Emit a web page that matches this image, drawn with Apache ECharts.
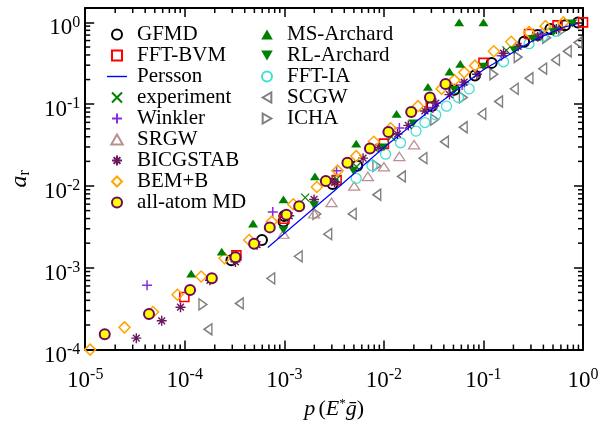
<!DOCTYPE html>
<html>
<head>
<meta charset="utf-8">
<script src="https://cdn.jsdelivr.net/npm/echarts@6/dist/echarts.min.js"></script>
<style>
html, body { margin: 0; padding: 0; background: #fff; }
#main { width: 602px; height: 425px; }
</style>
</head>
<body>
<div id="main"></div>
<script>
// data: [p, a_r]
var gfmd = [[2.94e-4,1.24e-3],[5.96e-4,2.19e-3],[9.8e-4,3.67e-3],[1.0e-3,4.3e-3],[3.05e-3,1.06e-2],[5.4e-3,1.77e-2],[3.03e-2,9.5e-2],[5.1e-2,0.15],[8.2e-2,0.225],[0.121,0.32],[0.256,0.58],[0.35,0.70],[0.47,0.83],[0.66,0.92],[0.89,1.0]];
var fftBvm = [[9.9e-5,4.4e-4],[3.3e-4,1.42e-3],[1.0e-3,3.98e-3],[3.35e-3,1.18e-2],[1e-2,3.3e-2],[2.96e-2,0.103],[0.1,0.32],[0.287,0.72],[0.555,0.92],[1,1]];
var persson = [[6.82e-4,1.77e-3],[3.16e-3,8.7e-3],[1e-2,2.95e-2],[3.16e-2,9.1e-2],[0.1,0.263],[0.316,0.6],[0.63,0.87],[0.9,0.97]];
var experiment = [[1.62e-3,7.2e-3],[3.35e-3,1.21e-2],[5.3e-3,1.72e-2],[7.9e-3,2.96e-2],[1.19e-2,3.98e-2],[0.17,0.456]];
var winkler = [[4.18e-5,6.1e-4],[7.65e-4,4.8e-3],[3.35e-3,1.54e-2],[1.43e-2,5.1e-2],[3.1e-2,9.0e-2],[6.1e-2,0.172],[0.152,0.39],[0.377,0.72]];
var srgw = [[9.8e-4,2.58e-3],[1.99e-3,4.56e-3],[2.98e-3,6.3e-3],[5.03e-3,1.0e-2],[6.9e-3,1.31e-2],[1e-2,1.72e-2],[1.43e-2,2.3e-2],[2.01e-2,3.2e-2]];
var bicgstab = [[3.26e-5,1.38e-4],[5.87e-5,2.25e-4],[9.06e-5,3.3e-4],[1.79e-4,7.03e-4],[3.23e-4,1.18e-3],[5.32e-4,1.92e-3],[1.12e-3,4.32e-3],[1.99e-3,6.85e-3],[3.2e-3,1.11e-2],[6.18e-3,2.19e-2],[8.9e-3,2.96e-2],[1.37e-2,4.32e-2],[1.76e-2,5.51e-2],[2.58e-2,8.27e-2],[3.32e-2,0.103],[4.56e-2,0.131],[6.4e-2,0.186],[8.6e-2,0.232],[0.159,0.42],[0.223,0.51],[0.35,0.67],[0.54,0.83]];
var bemB = [[1.12e-5,1.0e-4],[2.48e-5,1.87e-4],[4.79e-5,2.88e-4],[8.45e-5,4.69e-4],[1.46e-4,7.84e-4],[2.51e-4,1.31e-3],[4.44e-4,2.19e-3],[7.48e-4,3.67e-3],[1.23e-3,5.98e-3],[2.12e-3,9.73e-3],[3.43e-3,1.54e-2],[5.27e-3,2.32e-2],[7.92e-3,3.48e-2],[1.17e-2,5.08e-2],[2.2e-2,9.47e-2],[3.8e-2,0.154],[5.1e-2,0.197],[6.41e-2,0.245],[8.22e-2,0.296],[0.127,0.444],[0.19,0.58],[0.287,0.76],[0.42,0.90],[0.635,1.0]];
var allAtom = [[1.57e-5,1.54e-4],[4.37e-5,2.72e-4],[1.13e-4,5.36e-4],[1.87e-4,7.43e-4],[3.23e-4,1.35e-3],[4.97e-4,1.97e-3],[7.14e-4,3.12e-3],[1.05e-3,4.44e-3],[1.41e-3,5.66e-3],[2.61e-3,1.15e-2],[4.3e-3,1.92e-2],[7.24e-3,2.88e-2],[1.11e-2,4.56e-2],[1.88e-2,8.05e-2],[2.9e-2,0.121],[4.16e-2,0.177]];
var msArchard = [[1.16e-4,8.5e-4],[2.35e-4,1.58e-3],[4.85e-4,3.48e-3],[9.8e-4,6.85e-3],[2.03e-3,1.31e-2],[5.27e-3,3.3e-2],[1.34e-2,7.62e-2],[2.77e-2,0.163],[4.56e-2,0.251],[5.85e-2,0.312],[5.7e-2,1.0],[0.1,1.0]];
var rlArchard = [[9.8e-4,2.88e-3],[1.99e-3,5.82e-3],[4.92e-3,1.54e-2],[1e-2,2.96e-2],[1.97e-2,5.82e-2],[5.1e-2,0.15],[0.1,0.288],[0.204,0.456],[0.314,0.63],[0.506,0.76],[0.78,0.97]];
var fftIa = [[5.27e-3,1.24e-2],[7.59e-3,1.77e-2],[1.04e-2,2.45e-2],[1.47e-2,3.38e-2],[2.1e-2,4.69e-2],[2.58e-2,5.97e-2],[3.32e-2,7.42e-2],[4.26e-2,9.47e-2],[5.6e-2,0.121],[7.18e-2,0.154],[0.159,0.33],[0.287,0.55],[0.394,0.68],[0.53,0.78]];
var scgw = [[1.71e-4,1.77e-4],[3.53e-4,3.67e-4],[7.31e-4,7.43e-4],[1.38e-3,1.38e-3],[2.73e-3,2.58e-3],[4.81e-3,4.56e-3],[8.49e-3,7.83e-3],[1.5e-2,1.31e-2],[2.47e-2,2.19e-2],[4.06e-2,3.48e-2],[6.27e-2,5.22e-2],[9.64e-2,7.62e-2],[0.142,0.108],[0.204,0.154],[0.287,0.208],[0.394,0.272],[0.53,0.348],[0.695,0.444],[0.89,0.567]];
var icha = [[1.52e-4,3.57e-4],[2.12e-3,4.56e-3],[8.49e-3,1.77e-2],[3.24e-2,6.48e-2],[6.27e-2,0.121],[0.127,0.232],[0.223,0.377],[0.431,0.648],[0.62,0.805]];

var legendLeft = ['GFMD','FFT-BVM','Persson','experiment','Winkler','SRGW','BICGSTAB','BEM+B','all-atom MD'];
var legendRight = ['MS-Archard','RL-Archard','FFT-IA','SCGW','ICHA'];

// axis range and ticks
var xMin = 1e-5, xMax = 1;
var yMin = 1e-4, yMax = 1.5;
var xDecades = [1e-5, 1e-4, 1e-3, 1e-2, 1e-1];
var yDecades = [1e-4, 1e-3, 1e-2, 1e-1];
var minorSteps = [2, 3, 4, 5, 6, 7, 8, 9];

var FONT = 'Liberation Serif';
var CIRCLE = 'path://M0,5A5,5,0,1,1,10,5A5,5,0,1,1,0,5Z';
var SQUARE = 'path://M0,0L10,0L10,10L0,10Z';
var DIAMOND = 'path://M5,0L10,5L5,10L0,5Z';
var TRI_UP = 'path://M5,0L10,8.66L0,8.66Z';
var TRI_DOWN = 'path://M0,0L10,0L5,8.66Z';
var TRI_LEFT = 'path://M0,5L8.66,0L8.66,10Z';
var TRI_RIGHT = 'path://M0,0L8.66,5L0,10Z';
var XS = 'path://M0,0L10,10M10,0L0,10';
var PLUS = 'path://M5,0L5,10M0,5L10,5';
var STAR = 'path://M5,0L5,10M0,5L10,5M1.6,1.6L8.4,8.4M8.4,1.6L1.6,8.4';
var NONE = 'rgba(0,0,0,0)';

function pts(name, data, symbol, size, fill, stroke, bw) {
  return {
    name: name, type: 'scatter', data: data,
    symbol: symbol, symbolSize: size, symbolKeepAspect: true,
    itemStyle: { color: fill, borderColor: stroke, borderWidth: bw, opacity: 1 },
    emphasis: { disabled: true }
  };
}

var xMinor = [], yMinor = [];
xDecades.forEach(function (d) { minorSteps.forEach(function (m) { xMinor.push([m * d, yMin]); }); });
yDecades.forEach(function (d) { minorSteps.forEach(function (m) { yMinor.push([xMin, m * d]); }); });

function tickLine(x1, y1, x2, y2) {
  return { type: 'line', shape: { x1: x1, y1: y1, x2: x2, y2: y2 }, style: { stroke: '#000', lineWidth: 1.5 } };
}

function powLabel(v) {
  var l = Math.log(v) / Math.LN10;
  var e = Math.round(l);
  if (Math.abs(l - e) > 1e-6) return '';
  return '{b|10}{s|' + e + '}';
}

var labelRich = {
  b: { fontFamily: FONT, fontSize: 23, color: '#000', padding: [12, 0, 0, 0] },
  s: { fontFamily: FONT, fontSize: 16, color: '#000' }
};

function axisBase(pos, isX, showLabel) {
  return {
    type: 'log', logBase: 10, position: pos,
    min: isX ? xMin : yMin, max: isX ? xMax : yMax,
    axisLine: { show: true, onZero: false, lineStyle: { color: '#000', width: 2 } },
    axisTick: { show: true, inside: true, length: 9, lineStyle: { color: '#000', width: 1.5 } },
    splitLine: { show: false },
    axisLabel: { show: showLabel, formatter: powLabel, rich: labelRich, margin: isX ? 8 : 5 }
  };
}

var xBottom = axisBase('bottom', true, true);
xBottom.name = '{i|p} {n|(}{i|E}{t|*}{i|ḡ}{n|)}';
xBottom.nameLocation = 'middle';
xBottom.nameGap = 31;
xBottom.nameTextStyle = {
  rich: {
    i: { fontFamily: FONT, fontSize: 22, fontStyle: 'italic', color: '#000' },
    n: { fontFamily: FONT, fontSize: 22, color: '#000' },
    t: { fontFamily: FONT, fontSize: 13, color: '#000', padding: [0, 0, 10, 0] }
  }
};
var xTop = axisBase('top', true, false);
var yLeft = axisBase('left', false, true);
yLeft.name = '{i|a}{r|r}';
yLeft.nameLocation = 'middle';
yLeft.nameRotate = 90;
yLeft.nameGap = 34;
yLeft.nameTextStyle = {
  rich: {
    i: { fontFamily: FONT, fontSize: 24, fontStyle: 'italic', color: '#000' },
    r: { fontFamily: FONT, fontSize: 16, color: '#000', padding: [10, 0, 0, 0] }
  }
};
var yRight = axisBase('right', false, false);

var legendText = { fontFamily: FONT, fontSize: 21, color: '#000', lineHeight: 20.2, padding: [0, 0, 0, 5] };
var leftItems = legendLeft.map(function (n) {
  return n === 'Persson' ? { name: n, icon: 'path://M0,0L20,0L20,1.4L0,1.4Z' } : n;
});

var option = {
  animation: false,
  backgroundColor: '#fff',
  grid: { left: 76, right: 19, top: 8, bottom: 62, containLabel: false },
  xAxis: [xBottom, xTop],
  yAxis: [yLeft, yRight],
  legend: [
    { data: leftItems, orient: 'vertical', left: 102, top: 19, itemWidth: 20, itemHeight: 10, itemGap: 0,
      symbolKeepAspect: true, selectedMode: false, textStyle: legendText },
    { data: legendRight, orient: 'vertical', left: 256, top: 19, itemWidth: 20, itemHeight: 10, itemGap: 0,
      symbolKeepAspect: true, selectedMode: false, textStyle: legendText }
  ],
  series: [
    {
      name: 'minorX', type: 'custom', silent: true, data: xMinor, encode: { x: 0, y: 1 },
      renderItem: function (params, api) {
        var v = api.value(0);
        var b = api.coord([v, yMin]), t = api.coord([v, yMax]);
        return { type: 'group', children: [tickLine(b[0], b[1], b[0], b[1] - 5), tickLine(t[0], t[1], t[0], t[1] + 5)] };
      }
    },
    {
      name: 'minorY', type: 'custom', silent: true, data: yMinor, encode: { x: 0, y: 1 },
      renderItem: function (params, api) {
        var v = api.value(1);
        var l = api.coord([xMin, v]), r = api.coord([xMax, v]);
        return { type: 'group', children: [tickLine(l[0], l[1], l[0] + 5, l[1]), tickLine(r[0], r[1], r[0] - 5, r[1])] };
      }
    },
    {
      name: 'Persson', type: 'line', data: persson, symbol: 'none', showSymbol: false,
      lineStyle: { color: '#0000ff', width: 1.2 }, itemStyle: { color: '#0000ff' }, emphasis: { disabled: true }
    },
    pts('SCGW', scgw, TRI_LEFT, [9, 11], NONE, '#7f7f7f', 1.5),
    pts('ICHA', icha, TRI_RIGHT, [9, 11], NONE, '#7f7f7f', 1.5),
    pts('SRGW', srgw, TRI_UP, [11, 9.5], NONE, '#bc8f8f', 1.3),
    pts('FFT-IA', fftIa, CIRCLE, 10, NONE, '#40e0d0', 1.3),
    pts('GFMD', gfmd, CIRCLE, 10, NONE, '#000000', 2),
    pts('FFT-BVM', fftBvm, SQUARE, 9, NONE, '#ff0000', 1.6),
    pts('experiment', experiment, XS, 8, NONE, '#008000', 1.2),
    pts('Winkler', winkler, PLUS, 10, NONE, '#8a2be2', 1.5),
    pts('BICGSTAB', bicgstab, STAR, 10, NONE, '#6b1a5e', 1.4),
    pts('BEM+B', bemB, DIAMOND, 11, NONE, '#ffa500', 1.5),
    pts('MS-Archard', msArchard, TRI_UP, [10, 9], '#008000', '#008000', 0),
    pts('RL-Archard', rlArchard, TRI_DOWN, [10, 9], '#008000', '#008000', 0),
    pts('all-atom MD', allAtom, CIRCLE, 10, '#ffff00', '#6b0a5e', 2)
  ]
};

var myChart = echarts.init(document.getElementById('main'), null, { renderer: 'canvas' });
myChart.setOption(option);
</script>
</body>
</html>
